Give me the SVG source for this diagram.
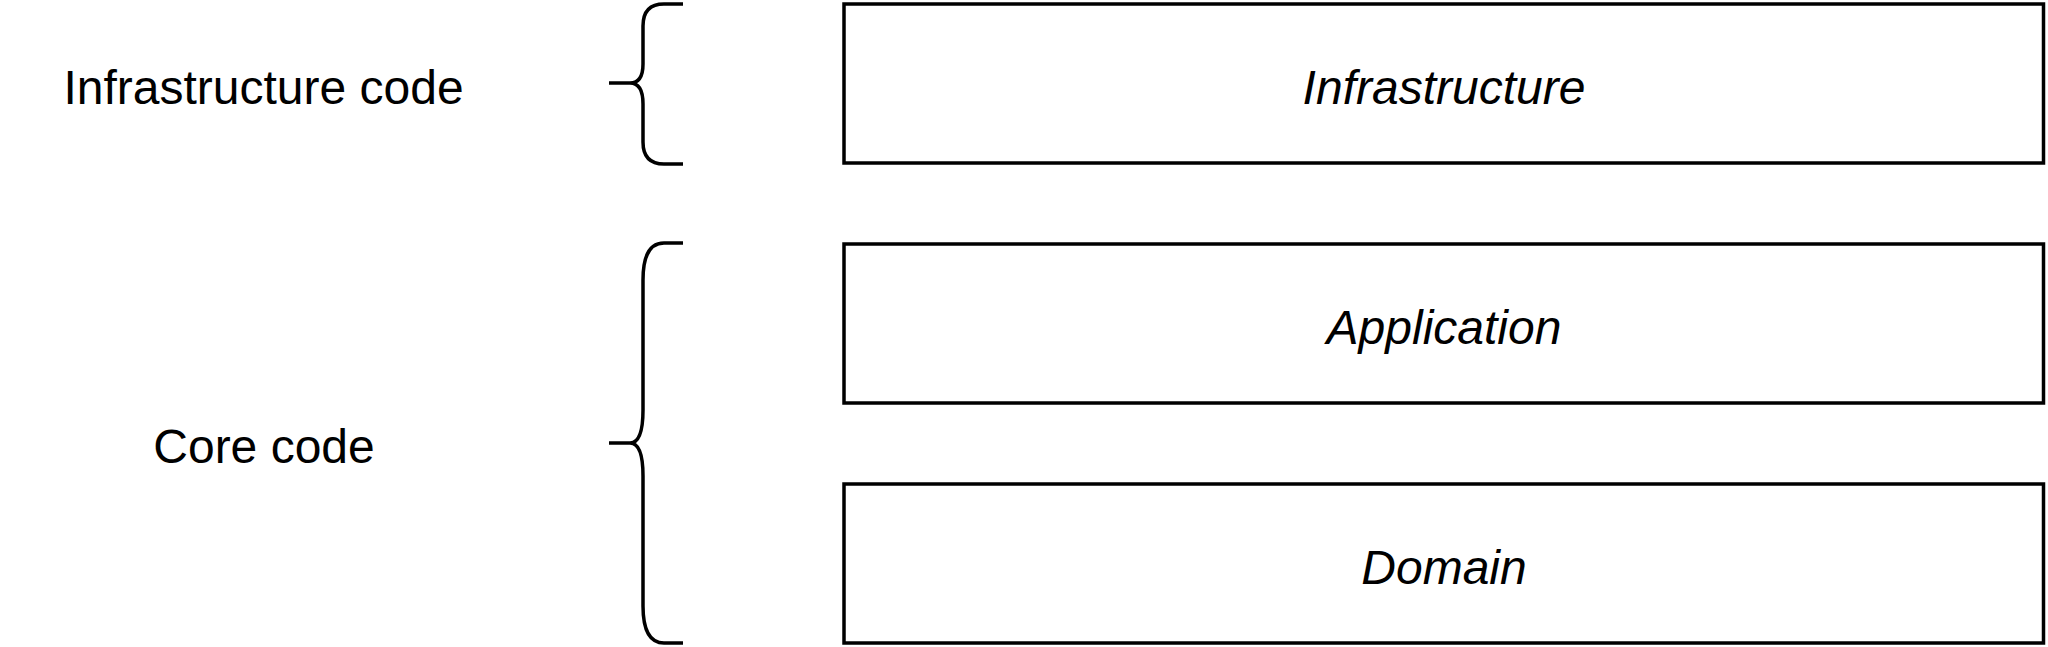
<svg xmlns="http://www.w3.org/2000/svg" width="2048" height="647" viewBox="0 0 2048 647">
<style>
.box{fill:#fff;stroke:#000;stroke-width:3.5}
.brace{fill:none;stroke:#000;stroke-width:3.5;stroke-linecap:butt}
.lbl{font-family:"Liberation Sans",Arial,sans-serif;font-size:48px;fill:#000;text-anchor:middle}
.it{font-style:italic}
</style>
<rect width="2048" height="647" fill="#fff"/>
<g id="connectors">
<path class="brace" d="M683,4 H664 Q643,4 643,26 V64 Q643,83 630,83 H609 M630,83 Q643,83 643,104 V142 Q643,164 664,164 H683"/>
<path class="brace" d="M683,243 H664 Q643,243 643,280 V410 Q643,443 630,443 H609 M630,443 Q643,443 643,476 V606 Q643,643 664,643 H683"/>
</g>
<g id="label-infra-code"><text class="lbl" x="263.5" y="103.5">Infrastructure code</text></g>
<g id="label-core-code"><text class="lbl" x="264" y="463">Core code</text></g>
<g id="node-infrastructure">
<rect class="box" x="844" y="4" width="1199.5" height="159"/>
<text class="lbl it" x="1444" y="103.5">Infrastructure</text>
</g>
<g id="node-application">
<rect class="box" x="844" y="244" width="1199.5" height="159"/>
<text class="lbl it" x="1444" y="343.5">Application</text>
</g>
<g id="node-domain">
<rect class="box" x="844" y="484" width="1199.5" height="159"/>
<text class="lbl it" x="1444" y="583.5">Domain</text>
</g>
</svg>
